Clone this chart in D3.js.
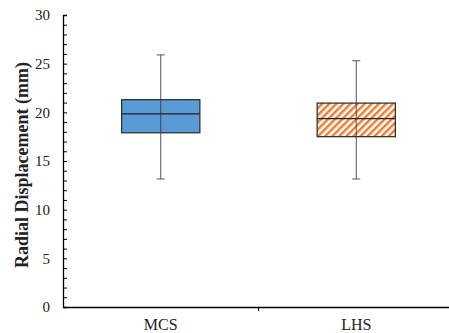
<!DOCTYPE html>
<html><head><meta charset="utf-8">
<script src="https://cdn.jsdelivr.net/npm/d3@7"></script>
<style>body{margin:0;background:#fff}svg{display:block}</style>
</head><body>
<script>
const categories = ["MCS", "LHS"];
const whiskerLow = [13.15, 13.15];
const q1 = [17.9, 17.5];
const median = [19.85, 19.35];
const q3 = [21.3, 20.95];
const whiskerHigh = [25.9, 25.3];
const yTicks = [0, 5, 10, 15, 20, 25, 30];

const W = 449, H = 333;
const m = {left: 63, right: -5, top: 15, bottom: 26};
const svg = d3.select("body").append("svg").attr("width", W).attr("height", H);

const defs = svg.append("defs");
const pat = defs.append("pattern").attr("id", "hatch").attr("patternUnits", "userSpaceOnUse")
  .attr("width", 5).attr("height", 5).attr("patternTransform", "rotate(45)");
pat.append("rect").attr("width", 5).attr("height", 5).attr("fill", "#fff");
pat.append("rect").attr("x", 0).attr("width", 2.5).attr("height", 5).attr("fill", "#ED7D31");

const x = d3.scaleBand().domain(categories).range([m.left, W - m.right]);
const y = d3.scaleLinear().domain([0, 30]).range([H - m.bottom - 0, m.top]);

const font = "'Liberation Serif','Times New Roman',serif";

const yAxis = d3.axisLeft(y).tickValues(d3.range(0, 31, 1)).tickSize(-4).tickFormat(d => yTicks.includes(d) ? d : "");
const gy = svg.append("g").attr("transform", `translate(${m.left},0)`).call(yAxis);
gy.attr("font-size", null).attr("font-family", null);
gy.select(".domain").attr("stroke", "#000").attr("stroke-width", 1.3);
gy.selectAll(".tick line").attr("stroke", "#000").attr("stroke-width", 1);
gy.selectAll(".tick text").attr("x", -13).style("font-family", font).style("font-size", "15px").attr("fill", "#222");

const gx = svg.append("g").attr("transform", `translate(0,${y(0)})`)
  .call(d3.axisBottom(x).tickSize(0).tickSizeOuter(0));
gx.attr("font-size", null).attr("font-family", null);
gx.select(".domain").attr("stroke", "#000").attr("stroke-width", 1.3);
gx.selectAll(".tick text").attr("y", 12).style("font-family", font).style("font-size", "16px").attr("fill", "#222");
gx.append("line").attr("x1", x(categories[1])).attr("x2", x(categories[1])).attr("y1", 0).attr("y2", 4)
  .attr("stroke", "#000").attr("stroke-width", 1);

const bw = x.bandwidth() * 0.4;
const fills = ["#5B9BD5", "url(#hatch)"];
categories.forEach((c, i) => {
  const cx = x(c) + x.bandwidth() / 2;
  const g = svg.append("g");
  g.append("line").attr("x1", cx).attr("x2", cx).attr("y1", y(whiskerLow[i])).attr("y2", y(whiskerHigh[i]))
    .attr("stroke", "#555").attr("stroke-width", 1);
  [whiskerLow[i], whiskerHigh[i]].forEach(v => {
    g.append("line").attr("x1", cx - 4).attr("x2", cx + 4).attr("y1", y(v)).attr("y2", y(v))
      .attr("stroke", "#555").attr("stroke-width", 1);
  });
  g.append("rect").attr("x", cx - bw / 2).attr("y", y(q3[i])).attr("width", bw).attr("height", y(q1[i]) - y(q3[i]))
    .attr("fill", fills[i]).attr("stroke", "#333").attr("stroke-width", 1.3);
  g.append("line").attr("x1", cx).attr("x2", cx).attr("y1", y(q3[i])).attr("y2", y(q1[i]))
    .attr("stroke", "#333").attr("stroke-width", 0.8);
  g.append("line").attr("x1", cx - bw / 2).attr("x2", cx + bw / 2).attr("y1", y(median[i])).attr("y2", y(median[i]))
    .attr("stroke", "#222").attr("stroke-width", 1.3);
});

svg.append("text").attr("transform", `translate(22,165) rotate(-90)`)
  .attr("dy", "0.35em")
  .attr("text-anchor", "middle").style("font-family", font).attr("font-weight", "bold").style("font-size", "18px")
  .attr("fill", "#222").text("Radial Displacement (mm)");
</script>
</body></html>
